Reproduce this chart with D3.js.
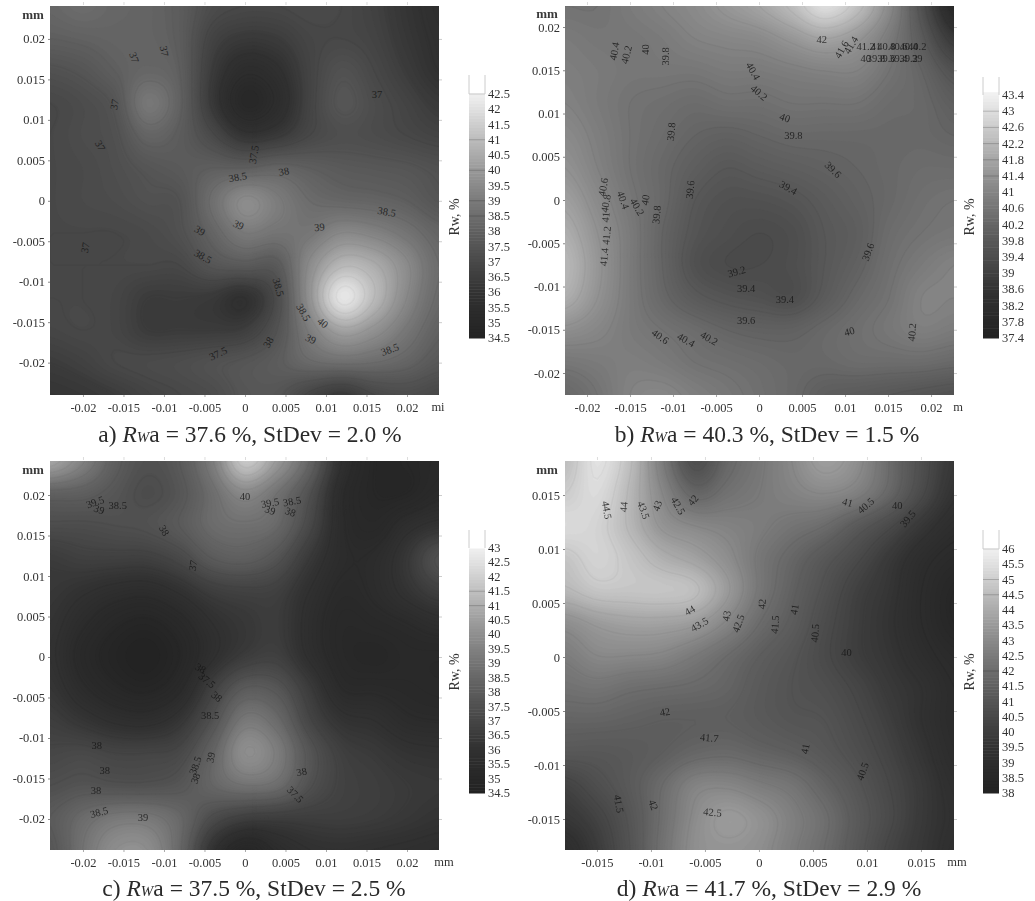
<!DOCTYPE html>
<html><head><meta charset="utf-8">
<style>
html,body{margin:0;padding:0;background:#fff}
svg{display:block;filter:blur(0.65px)}
text{font-family:"Liberation Serif","Times New Roman",serif}
</style>
<script src="https://cdn.jsdelivr.net/npm/d3@7/dist/d3.min.js"></script>
</head><body><svg id="c" width="1035" height="901"></svg>
<script>
// ---------- data (Rw, %; rows top to bottom, columns left to right) ----------
const valuesA = [
[38.3,38.5,38.3,38.2,37.9,37.2,37.0,37.0,37.1,37.0,36.7,36.2,35.8],
[38.0,38.1,38.2,38.2,37.9,36.8,36.4,36.5,36.9,37.0,36.8,36.3,35.9],
[37.4,37.6,38.0,38.3,38.0,36.5,35.6,35.9,36.8,37.4,37.0,36.5,36.0],
[37.0,37.2,37.6,38.9,38.1,36.4,35.1,35.6,36.8,37.6,37.2,36.8,36.4],
[37.0,37.2,37.4,38.2,37.9,37.1,36.2,36.4,37.0,37.3,37.2,37.0,36.8],
[37.0,37.1,37.3,37.6,37.8,38.0,38.0,38.2,38.0,37.8,37.7,37.6,37.4],
[37.0,37.1,37.2,37.4,37.5,38.6,39.6,39.1,38.5,38.3,38.2,38.0,37.6],
[37.0,37.0,37.0,37.1,37.4,38.2,39.0,38.8,38.9,39.5,39.3,38.8,38.2],
[37.0,37.0,37.0,37.0,37.0,37.6,37.8,37.8,39.6,40.9,40.6,39.6,38.5],
[37.0,37.0,36.9,36.5,36.5,36.4,36.0,37.2,39.8,42.2,41.0,39.5,38.4],
[36.9,37.0,36.9,36.5,36.5,36.5,36.6,37.5,39.1,40.3,39.8,38.9,38.1],
[36.5,36.7,37.0,37.1,37.2,37.4,37.6,37.9,38.4,38.6,38.5,38.2,37.7],
[36.2,36.3,36.5,36.8,37.0,37.2,37.6,37.6,36.9,36.4,37.0,37.2,37.0]];
const valuesB = [
[40.6,40.6,40.8,41.0,41.2,41.5,41.8,42.3,43.0,42.4,41.2,39.6,38.0],
[40.8,40.7,40.7,40.8,41.0,41.1,41.2,41.5,41.8,41.5,40.8,39.9,38.8],
[40.9,40.8,40.7,40.7,40.7,40.8,40.8,40.9,41.0,41.0,40.6,40.2,39.6],
[41.0,40.8,40.6,40.5,40.4,40.5,40.5,40.6,40.6,40.6,40.4,40.3,40.0],
[41.2,40.9,40.6,40.4,40.2,40.1,40.2,40.3,40.3,40.3,40.3,40.3,40.2],
[41.4,41.0,40.6,40.3,40.0,39.8,39.9,40.0,40.1,40.2,40.3,40.4,40.4],
[41.7,41.2,40.7,40.3,39.8,39.6,39.6,39.7,39.9,40.1,40.3,40.5,40.6],
[42.0,41.4,40.8,40.2,39.7,39.5,39.4,39.5,39.8,40.0,40.4,40.6,40.7],
[42.2,41.5,40.8,40.2,39.6,39.4,39.4,39.5,39.8,40.1,40.5,40.8,41.0],
[42.0,41.4,40.8,40.3,39.9,39.7,39.6,39.5,39.9,40.3,40.6,41.0,41.0],
[41.3,41.1,40.8,40.6,40.4,40.2,40.1,40.1,40.3,40.5,40.7,40.9,40.8],
[40.7,40.8,40.9,40.8,40.6,40.5,40.4,40.3,40.3,40.4,40.4,40.4,40.3],
[40.3,40.6,41.0,41.1,40.9,40.7,40.5,40.3,40.0,39.9,39.8,39.7,39.6]];
const valuesC = [
[40.8,39.6,38.2,37.6,38.0,39.4,41.8,40.4,38.5,36.0,35.0,35.0,35.2],
[38.3,38.2,37.8,37.4,37.8,38.8,39.8,39.0,37.6,35.6,35.0,35.0,35.4],
[37.4,37.4,37.5,37.6,38.0,38.7,38.9,38.6,37.2,35.6,35.2,35.8,36.2],
[36.6,36.8,36.8,36.8,37.2,38.0,38.2,37.7,36.5,35.6,35.6,36.4,37.6],
[36.4,36.1,35.8,35.7,36.1,36.7,36.9,36.8,36.0,35.4,35.6,36.2,36.8],
[36.2,35.6,35.1,34.9,35.3,36.0,36.4,36.6,35.8,35.2,35.3,35.5,35.8],
[36.1,35.3,34.8,34.6,35.0,35.9,36.6,36.8,35.9,35.2,35.0,35.2,35.2],
[36.3,35.6,35.1,34.9,35.4,36.8,38.0,37.8,36.6,35.5,35.4,35.3,35.2],
[36.7,36.3,35.9,35.8,36.3,37.6,39.2,38.7,37.1,36.2,36.0,35.6,35.5],
[37.1,37.2,37.0,37.0,37.2,38.4,40.0,39.4,37.8,36.8,36.5,36.2,36.1],
[37.5,37.7,37.6,37.6,37.8,38.5,39.0,38.8,37.6,36.9,36.7,36.5,36.4],
[38.0,38.7,39.2,39.2,38.6,37.4,36.8,36.7,36.7,36.7,36.6,36.4,36.2],
[37.8,39.0,40.0,40.0,38.6,36.2,35.0,35.6,36.0,36.1,36.0,35.9,35.8]];
const valuesD = [
[44.6,45.6,44.6,42.6,40.8,41.8,42.4,43.0,43.7,43.2,42.0,40.8,39.8],
[45.0,45.4,44.4,43.0,41.8,42.2,42.5,42.8,43.0,42.7,41.8,40.6,39.6],
[45.4,45.2,44.4,43.4,43.0,42.8,42.6,42.3,42.0,41.3,40.6,39.8,39.2],
[44.8,45.2,44.8,44.2,43.8,43.2,42.4,41.8,41.2,40.6,39.9,39.2,38.8],
[44.4,44.8,44.8,44.8,44.6,43.6,42.4,41.6,40.9,40.2,39.7,39.0,38.5],
[43.2,43.6,43.8,43.8,43.6,42.9,42.0,41.4,40.7,40.1,39.6,39.0,38.5],
[42.6,43.0,43.0,42.9,42.5,42.0,41.5,41.1,40.6,40.1,39.7,39.2,38.8],
[42.2,42.3,42.1,42.0,41.9,41.7,41.3,41.0,40.8,40.4,39.9,39.5,39.0],
[41.7,41.7,41.6,41.5,41.5,41.5,41.3,41.1,41.0,40.6,40.1,39.5,39.0],
[41.2,41.2,41.3,41.5,41.8,41.9,41.7,41.5,41.2,40.8,40.3,39.7,39.1],
[40.3,40.8,41.3,42.0,42.8,42.9,42.6,42.3,41.7,41.1,40.5,39.9,39.3],
[39.8,40.3,41.1,42.1,43.1,43.6,43.3,42.7,42.1,41.3,40.6,39.9,39.4],
[39.2,40.0,41.0,42.2,43.2,43.4,43.2,42.6,42.0,41.2,40.4,39.8,39.3]];

const ticksA = [-0.02,-0.015,-0.01,-0.005,0,0.005,0.01,0.015,0.02];
const ticksD = [-0.015,-0.01,-0.005,0,0.005,0.01,0.015];
const barTicksA = [34.5,35,35.5,36,36.5,37,37.5,38,38.5,39,39.5,40,40.5,41,41.5,42,42.5];
const barTicksB = [37.4,37.8,38.2,38.6,39,39.4,39.8,40.2,40.6,41,41.4,41.8,42.2,42.6,43,43.4];
const barTicksC = [34.5,35,35.5,36,36.5,37,37.5,38,38.5,39,39.5,40,40.5,41,41.5,42,42.5,43];
const barTicksD = [38,38.5,39,39.5,40,40.5,41,41.5,42,42.5,43,43.5,44,44.5,45,45.5,46];
const barLinesA = [42.5,41,40,39,38.5];
const barLinesB = [43,42.6,42.2,41.8,41.4];
const barLinesC = [41.5,41];
const barLinesD = [46,45,44.5,42];

// contour labels: [x mm, y mm, text]
const labelsA = [[-0.9,2.9,"38.5"],[4.8,3.6,"38"],[-0.8,-3,"39"],[9.2,-3.3,"39"],[17.5,-1.4,"38.5"],[-5.6,-3.7,"39"],[-5.2,-6.9,"38.5"],[4.1,-10.7,"38.5"],[7.2,-13.8,"38.5"],[9.6,-15.1,"40"],[8.1,-17.1,"39"],[2.9,-17.5,"38"],[-3.3,-18.9,"37.5"],[17.9,-18.4,"38.5"],[-13.7,17.7,"37"],[-10,18.5,"37"],[-16.1,11.9,"37"],[-17.9,6.8,"37"],[-19.7,-5.8,"37"],[1.1,5.7,"37.5"],[16.3,13.1,"37"]];
const anglesA = [-10,-10,25,-5,10,30,30,75,60,40,25,-60,-25,-20,70,80,-80,60,-80,-80,0];
const labelsB = [[7.3,18.5,"42"],[-16.8,17.2,"40.4"],[-15.4,16.8,"40.2"],[-13.2,17.4,"40"],[-10.9,16.6,"39.8"],[-0.7,14.9,"40.4"],[0,12.4,"40.2"],[3,9.5,"40"],[4,7.5,"39.8"],[-10.2,7.9,"39.8"],[-8,1.2,"39.6"],[8.6,3.5,"39.6"],[3.4,1.4,"39.4"],[12.7,-6,"39.6"],[-2.6,-8.3,"39.2"],[-1.5,-10.3,"39.4"],[3,-11.5,"39.4"],[-1.5,-13.9,"39.6"],[10.5,-15.2,"40"],[17.8,-15.3,"40.2"],[-11.5,-15.8,"40.6"],[-8.5,-16.2,"40.4"],[-5.8,-16,"40.2"],[-18.1,1.5,"40.6"],[-17.8,-0.4,"40.8"],[-17.8,-2,"41"],[-17.7,-4.1,"41.2"],[-18,-6.6,"41.4"],[-15.8,0,"40.4"],[-14.2,-0.8,"40.2"],[-13.2,0,"40"],[-11.9,-1.7,"39.8"],
[9.6,17.4,"41.6"],[10.7,17.9,"41.4"],[12.4,17.7,"41.2"],[13.6,17.7,"41"],[14.8,17.7,"40.8"],[16.2,17.7,"40.6"],[17.4,17.7,"40.4"],[18.4,17.7,"40.2"],[12.4,16.4,"40"],[13.6,16.4,"39.8"],[14.8,16.4,"39.6"],[16.2,16.4,"39.4"],[17.4,16.4,"39.2"],[18.4,16.4,"39"]];
const anglesB = [0,-80,-75,-90,-90,60,40,20,0,-85,-85,45,30,-70,-15,0,0,0,-15,-85,35,30,30,-80,-80,-85,-85,-85,70,60,-80,-85,-60,-60,0,0,0,0,0,0,0,0,0,0,0,0];
const labelsC = [[0,19.8,"40"],[-18.5,19.1,"39.5"],[-18,18.2,"39"],[-15.7,18.7,"38.5"],[3.1,19,"39.5"],[3.1,18.1,"39"],[5.8,19.2,"38.5"],[5.6,17.9,"38"],[-10,15.6,"38"],[-6.4,11.3,"37"],[-5.5,-1.4,"38"],[-4.7,-2.9,"37.5"],[-3.5,-4.9,"38"],[-4.3,-7.2,"38.5"],[-4.2,-12.4,"39"],[-6.1,-13.4,"38.5"],[-6.1,-15,"38"],[7,-14.2,"38"],[6.2,-17,"37.5"],[-18.3,-10.9,"38"],[-17.3,-14,"38"],[-18.4,-16.5,"38"],[-18,-19.2,"38.5"],[-12.6,-19.8,"39"]];
const anglesC = [0,-20,20,0,-10,20,-10,20,60,-80,30,40,40,0,-80,-70,-70,-10,45,0,0,0,-15,0];
const labelsD = [[-14.1,13.6,"44.5"],[-12.5,13.9,"44"],[-10.7,13.6,"43.5"],[-9.4,14,"43"],[-7.5,14,"42.5"],[-6.1,14.5,"42"],[-6.4,4.3,"44"],[-5.5,3,"43.5"],[-3,3.8,"43"],[-1.9,3.1,"42.5"],[0.3,4.9,"42"],[1.5,3,"41.5"],[3.3,4.4,"41"],[5.2,2.2,"40.5"],[8.1,0.4,"40"],[8.2,14.3,"41"],[9.9,14,"40.5"],[12.8,14,"40"],[13.8,12.8,"39.5"],[-8.7,-5.1,"42"],[-4.6,-7.5,"41.7"],[4.3,-8.5,"41"],[9.6,-10.6,"40.5"],[-13,-13.6,"41.5"],[-9.8,-13.7,"42"],[-4.3,-14.4,"42.5"]];
const anglesD = [80,-85,70,-70,60,-50,-30,-30,-80,-70,-85,-85,-80,-85,0,15,-40,0,-50,-10,5,-80,-70,80,70,5];

const grayStops = [0,0.19,0.31,0.44,0.56,0.69,0.81,0.94,1,1.1];
const grayLevels = [34,50,72,96,122,153,187,224,240,250];

// ---------- panels ----------
const panels = [
 {id:"a",values:valuesA,labels:labelsA,angles:anglesA,ticks:ticksA,barTicks:barTicksA,barLines:barLinesA,vmin:34.5,vmax:42.5,
  px:[50,439],py:[6,395],xd:[-24.07,23.95],yd:[24.07,-24],
  bar:[469,338,94,78],barLab:[455,217],unit:["mi",438,407],mm:[33,15],
  cap:["a) ","37.6 %, StDev = 2.0 %",250,442]},
 {id:"b",values:valuesB,labels:labelsB,angles:anglesB,ticks:ticksA,barTicks:barTicksB,barLines:barLinesB,vmin:37.4,vmax:43.4,
  px:[565,954],py:[6,395],xd:[-22.56,22.67],yd:[22.43,-22.54],
  bar:[983,338,95,80],barLab:[970,217],unit:["m",958,407],mm:[547,14],
  cap:["b) ","40.3 %, StDev = 1.5 %",767,442]},
 {id:"c",values:valuesC,labels:labelsC,angles:anglesC,ticks:ticksA,barTicks:barTicksC,barLines:barLinesC,vmin:34.5,vmax:43,
  px:[50,439],py:[461,850],xd:[-24.07,23.95],yd:[24.2,-23.83],
  bar:[469,793,548,533],barLab:[455,672],unit:["mm",444,862],mm:[33,470],
  cap:["c) ","37.5 %, StDev = 2.5 %",254,896]},
 {id:"d",values:valuesD,labels:labelsD,angles:anglesD,ticks:ticksD,barTicks:barTicksD,barLines:barLinesD,vmin:38,vmax:46,
  px:[565,954],py:[461,850],xd:[-17.96,18.06],yd:[18.15,-17.87],
  bar:[983,793,549,533],barLab:[970,672],unit:["mm",957,862],mm:[547,470],
  cap:["d) ","41.7 %, StDev = 2.9 %",769,896]}
];

const svg = d3.select("#c");

// smooth rendering surface between the read grid values
function cubic(p0,p1,p2,p3,t){
  return 0.5*((2*p1)+(-p0+p2)*t+(2*p0-5*p1+4*p2-p3)*t*t+(-p0+3*p1-3*p2+p3)*t*t*t);
}
function surface(g,k){
  const n=g.length,m=g[0].length,W=(m-1)*k+1,H=(n-1)*k+1,out=new Array(W*H);
  const at=(r,c)=>g[Math.max(0,Math.min(n-1,r))][Math.max(0,Math.min(m-1,c))];
  for(let j=0;j<H;j++){
    const r=Math.min(n-2,Math.floor(j/k)),tr=j/k-r;
    for(let i=0;i<W;i++){
      const c=Math.min(m-2,Math.floor(i/k)),tc=i/k-c;
      const row=[-1,0,1,2].map(d=>cubic(at(r+d,c-1),at(r+d,c),at(r+d,c+1),at(r+d,c+2),tc));
      out[j*W+i]=cubic(row[0],row[1],row[2],row[3],tr);
    }
  }
  return {W,H,out};
}

panels.forEach(p=>{
  const g=svg.append("g").attr("class","panel-"+p.id);
  const x=d3.scaleLinear().domain(p.xd).range(p.px);
  const y=d3.scaleLinear().domain(p.yd).range(p.py);
  const gray=d3.scaleLinear().domain(grayStops.map(t=>p.vmin+t*(p.vmax-p.vmin)))
    .range(grayLevels.map(v=>`rgb(${v},${v},${v})`)).clamp(true);

  const k=8,s=surface(p.values,k);
  const gx=d3.scaleLinear().domain([0,s.W-1]).range(p.px);
  const gy=d3.scaleLinear().domain([0,s.H-1]).range(p.py);
  const step=(p.vmax-p.vmin)/90;
  const lo=d3.min(s.out),hi=d3.max(s.out);
  const th=d3.range(lo,hi,step);
  const contours=d3.contours().size([s.W,s.H]);
  const cont=contours.thresholds(th)(s.out);
  const path=d3.geoPath(d3.geoTransform({point(a,b){this.stream.point(gx(a-0.5),gy(b-0.5));}}));
  const clipId="clip-"+p.id;
  svg.append("clipPath").attr("id",clipId).append("rect")
    .attr("x",p.px[0]).attr("y",p.py[0]).attr("width",p.px[1]-p.px[0]).attr("height",p.py[1]-p.py[0]);
  const map=g.append("g").attr("clip-path",`url(#${clipId})`);
  map.append("rect").attr("x",p.px[0]).attr("y",p.py[0]).attr("width",p.px[1]-p.px[0]).attr("height",p.py[1]-p.py[0]).attr("fill",gray(lo));
  map.append("g").selectAll("path").data(cont).join("path").attr("d",path).attr("fill",d=>gray(d.value)).attr("stroke",d=>gray(d.value)).attr("stroke-width",0.4);
  // very faint isolines at the colour bar ticks
  const iso=d3.contours().size([s.W,s.H]).thresholds(p.barTicks)(s.out);
  map.append("g").selectAll("path").data(iso).join("path").attr("d",path).attr("fill","none").attr("stroke","#000").attr("stroke-opacity",0.03).attr("stroke-width",1.5);

  // contour labels
  g.append("g").selectAll("text").data(p.labels).join("text")
    .attr("transform",(d,i)=>`translate(${x(d[0])},${y(d[1])}) rotate(${p.angles[i]})`)
    .attr("text-anchor","middle").attr("dy","0.32em").attr("font-size",10.5).attr("fill","#141414").attr("opacity",0.8)
    .text(d=>d[2]);

  // axes
  const xa=d3.scaleLinear().domain(p.xd.map(v=>v/1000)).range(p.px);
  const ya=d3.scaleLinear().domain(p.yd.map(v=>v/1000)).range(p.py);
  const style=(sel,col)=>{sel.select(".domain").remove();sel.selectAll("line").attr("stroke",col);
    sel.selectAll("text").attr("font-family","Liberation Serif").attr("font-size",12.5).attr("fill","#333");};
  g.append("g").attr("transform",`translate(0,${p.py[1]})`)
    .call(d3.axisBottom(xa).tickValues(p.ticks).tickFormat(String).tickSize(2).tickPadding(6)).call(style,"#aaa");
  g.append("g").attr("transform",`translate(${p.px[0]},0)`)
    .call(d3.axisLeft(ya).tickValues(p.ticks).tickFormat(String).tickSize(2).tickPadding(3)).call(style,"#888");
  g.append("g").attr("transform",`translate(${p.px[1]},0)`)
    .call(d3.axisRight(ya).tickValues(p.ticks).tickFormat("").tickSize(3)).call(style,"#ccc");
  g.append("g").attr("transform",`translate(0,${p.py[0]-1})`)
    .call(d3.axisTop(xa).tickValues(p.ticks).tickFormat("").tickSize(3)).call(style,"#ddd");
  g.append("text").attr("x",p.mm[0]).attr("y",p.mm[1]).attr("dy","0.32em").attr("text-anchor","middle").attr("font-size",13).attr("font-weight","bold").attr("fill","#3a3a3a").text("mm");
  g.append("text").attr("x",p.unit[1]).attr("y",p.unit[2]).attr("dy","0.32em").attr("text-anchor","middle").attr("font-size",12.5).attr("fill","#333").text(p.unit[0]);

  // colour bar
  const [bx,by0,by1,byTop]=p.bar, bw=16;
  const by=d3.scaleLinear().domain([p.vmin,p.vmax]).range([by0,by1]);
  const bandStep=(p.barTicks[1]-p.barTicks[0])/5;
  const vTop=by.invert(byTop);
  const bands=d3.range(p.vmin,vTop,bandStep);
  g.append("g").selectAll("rect").data(bands).join("rect")
    .attr("x",bx).attr("width",bw)
    .attr("y",d=>by(d+bandStep)).attr("height",d=>by(d)-by(d+bandStep)+0.5)
    .attr("fill",d=>d>=p.vmax?"#fff":gray(d+bandStep/2));
  g.append("g").selectAll("line").data(p.barLines).join("line")
    .attr("x1",bx).attr("x2",bx+bw).attr("y1",d=>by(d)).attr("y2",d=>by(d))
    .attr("stroke",d=>d3.color(gray(d)).darker(0.6)).attr("stroke-width",1);
  g.append("line").attr("x1",bx).attr("x2",bx).attr("y1",byTop-3).attr("y2",by1).attr("stroke","#ccc");
  g.append("line").attr("x1",bx+bw).attr("x2",bx+bw).attr("y1",byTop-3).attr("y2",by1).attr("stroke","#ccc");
  g.append("g").selectAll("text").data(p.barTicks).join("text")
    .attr("x",bx+bw+3).attr("y",d=>by(d)).attr("dy","0.32em").attr("font-size",12.5).attr("fill","#333").text(String);
  g.append("text").attr("transform",`translate(${p.barLab[0]},${p.barLab[1]}) rotate(-90)`)
    .attr("text-anchor","middle").attr("dy","0.32em").attr("font-size",14).attr("fill","#333").text("Rw, %");

  // caption
  const cap=g.append("text").attr("x",p.cap[2]).attr("y",p.cap[3]).attr("text-anchor","middle").attr("font-size",23.5).attr("fill","#2a2a2a");
  cap.append("tspan").text(p.cap[0]);
  cap.append("tspan").attr("font-style","italic").text("R");
  cap.append("tspan").attr("font-style","italic").attr("font-size",15).text("W");
  cap.append("tspan").text("a = "+p.cap[1]);
});
</script></body></html>
